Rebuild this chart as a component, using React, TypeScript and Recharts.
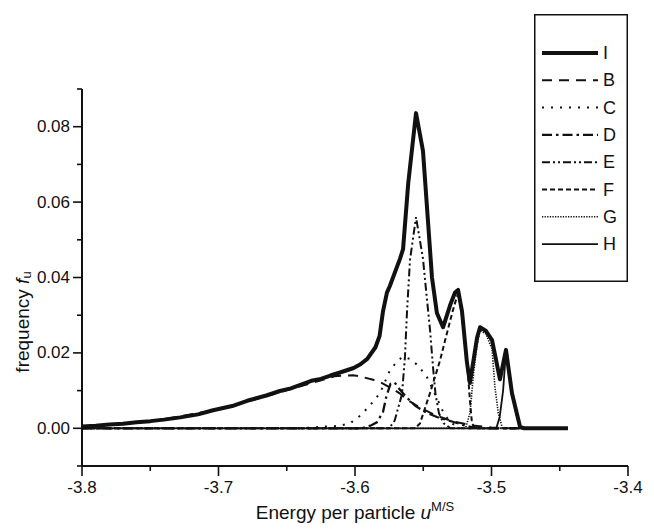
import React from 'react';
import { LineChart, Line, XAxis, YAxis, Legend } from 'recharts';

const FONT = '"Liberation Sans", Arial, Helvetica, sans-serif';
const INK = '#111';

// Energy per particle (u) / frequency (f) pairs for every distribution
const seriesI: [number, number][] = [
  [-3.8, 0.0005], [-3.79, 0.0007], [-3.78, 0.001], [-3.77, 0.0012], [-3.76, 0.0016],
  [-3.75, 0.0019], [-3.74, 0.0023], [-3.728, 0.0029], [-3.715, 0.0037], [-3.704, 0.0048],
  [-3.69, 0.0059], [-3.679, 0.0073], [-3.665, 0.0087], [-3.655, 0.0099], [-3.647, 0.0106],
  [-3.64, 0.0115], [-3.632, 0.0126], [-3.625, 0.0131], [-3.618, 0.014], [-3.611, 0.0148],
  [-3.601, 0.016], [-3.596, 0.017], [-3.591, 0.0184], [-3.585, 0.0215], [-3.582, 0.0245],
  [-3.5795, 0.031], [-3.5766, 0.036], [-3.5744, 0.0378], [-3.567, 0.045], [-3.5648, 0.0475],
  [-3.561, 0.065], [-3.5553, 0.0836], [-3.5502, 0.0736], [-3.5436, 0.04], [-3.54, 0.0306],
  [-3.5355, 0.0268], [-3.53, 0.033], [-3.5267, 0.036], [-3.5245, 0.0367], [-3.5216, 0.031],
  [-3.518, 0.0175], [-3.5158, 0.012], [-3.5106, 0.024], [-3.5084, 0.0268], [-3.504, 0.0258],
  [-3.4996, 0.0234], [-3.4938, 0.013], [-3.4894, 0.0208], [-3.485, 0.0093], [-3.4791, 0.0004],
  [-3.476, 0], [-3.444, 0],
];

const seriesB: [number, number][] = [
  [-3.8, 0.0004], [-3.75, 0.0018], [-3.7, 0.005], [-3.66, 0.009], [-3.63, 0.0122],
  [-3.615, 0.0138], [-3.6015, 0.0141], [-3.5956, 0.0137], [-3.5868, 0.0129], [-3.5802, 0.012],
  [-3.5722, 0.0104], [-3.567, 0.0092], [-3.5619, 0.0076], [-3.5539, 0.0058], [-3.5414, 0.0035],
  [-3.528, 0.0018], [-3.515, 0.0008], [-3.5, 0.0002], [-3.49, 0], [-3.444, 0],
];

const seriesC: [number, number][] = [
  [-3.8, 0], [-3.64, 0], [-3.62, 0.0005], [-3.6125, 0.0006], [-3.6037, 0.0013],
  [-3.5956, 0.0035], [-3.5883, 0.0064], [-3.5817, 0.0093], [-3.5744, 0.0154], [-3.5685, 0.018],
  [-3.5648, 0.019], [-3.56, 0.0184], [-3.5539, 0.0167], [-3.5473, 0.0136], [-3.54, 0.008],
  [-3.535, 0.004], [-3.53, 0.0015], [-3.522, 0], [-3.444, 0],
];

const seriesD: [number, number][] = [
  [-3.8, 0], [-3.595, 0], [-3.588, 0.0008], [-3.584, 0.0016], [-3.5795, 0.0043],
  [-3.577, 0.0085], [-3.574, 0.0118], [-3.571, 0.0122], [-3.5692, 0.0112], [-3.563, 0.0085],
  [-3.556, 0.006], [-3.548, 0.0042], [-3.54, 0.003], [-3.529, 0.0018], [-3.52, 0.0008],
  [-3.51, 0], [-3.444, 0],
];

const seriesE: [number, number][] = [
  [-3.8, 0], [-3.575, 0], [-3.571, 0.002], [-3.5656, 0.009], [-3.5634, 0.019],
  [-3.5619, 0.031], [-3.5597, 0.0447], [-3.5553, 0.056], [-3.5502, 0.045], [-3.5475, 0.035],
  [-3.545, 0.026], [-3.5428, 0.016], [-3.541, 0.009], [-3.5385, 0.004], [-3.535, 0.0013],
  [-3.53, 0], [-3.444, 0],
];

const seriesF: [number, number][] = [
  [-3.8, 0], [-3.556, 0], [-3.5524, 0.0013], [-3.5451, 0.0093], [-3.5377, 0.018],
  [-3.5326, 0.0253], [-3.5282, 0.0314], [-3.5245, 0.0359], [-3.522, 0.031], [-3.518, 0.018],
  [-3.5158, 0.0074], [-3.5143, 0.0013], [-3.512, 0], [-3.444, 0],
];

const seriesG: [number, number][] = [
  [-3.8, 0], [-3.519, 0], [-3.5158, 0.004], [-3.513, 0.015], [-3.5106, 0.022],
  [-3.5084, 0.026], [-3.504, 0.025], [-3.4996, 0.021], [-3.4975, 0.011], [-3.495, 0.004],
  [-3.492, 0], [-3.444, 0],
];

const seriesH: [number, number][] = [
  [-3.8, 0], [-3.4965, 0], [-3.494, 0.003], [-3.4915, 0.01], [-3.4894, 0.0205],
  [-3.487, 0.014], [-3.485, 0.009], [-3.482, 0.004], [-3.4791, 0.0003], [-3.477, 0],
  [-3.444, 0],
];

const xTicks = [-3.8, -3.75, -3.7, -3.65, -3.6, -3.55, -3.5, -3.45, -3.4];
const yTicks = [-0.01, 0, 0.01, 0.02, 0.03, 0.04, 0.05, 0.06, 0.07, 0.08, 0.09];
const legendNames = ['I', 'B', 'C', 'D', 'E', 'F', 'G', 'H'];

type Stroke = { width: number; dash?: string };

const strokes: Record<string, Stroke> = {
  I: { width: 4 },
  B: { width: 2, dash: '10 7' },
  C: { width: 2, dash: '2 7' },
  D: { width: 2.3, dash: '10 4 2.5 4' },
  E: { width: 2, dash: '8 3 2 3 2 3' },
  F: { width: 2, dash: '5 3' },
  G: { width: 1.6, dash: '1.3 1.3' },
  H: { width: 1.8 },
};

const toRows = (pts: [number, number][]) => pts.map(([u, f]) => ({ u, f }));

const componentSeries: { name: string; points: [number, number][] }[] = [
  { name: 'B', points: seriesB },
  { name: 'C', points: seriesC },
  { name: 'D', points: seriesD },
  { name: 'E', points: seriesE },
  { name: 'F', points: seriesF },
  { name: 'G', points: seriesG },
  { name: 'H', points: seriesH },
];

const XTick = (props: any) => {
  const { x, y, payload } = props;
  const v = payload.value as number;
  const major = Math.round(v * 100) % 10 === 0;
  const len = major ? 10 : 5;
  return (
    <g>
      <line x1={x} x2={x} y1={y} y2={y + len} stroke={INK} strokeWidth={1.6} />
      {major && (
        <text x={x} y={y + 27} textAnchor="middle" fontSize={17} fontFamily={FONT} fill={INK}>
          {v.toFixed(1)}
        </text>
      )}
    </g>
  );
};

const YTick = (props: any) => {
  const { x, y, payload } = props;
  const v = payload.value as number;
  const major = Math.round(v * 100) % 2 === 0;
  const len = major ? 9 : 5;
  return (
    <g>
      <line x1={x} x2={x - len} y1={y} y2={y} stroke={INK} strokeWidth={1.6} />
      {major && (
        <text x={x - len - 3} y={y} textAnchor="end" dominantBaseline="central" fontSize={17} fontFamily={FONT} fill={INK}>
          {v.toFixed(2)}
        </text>
      )}
    </g>
  );
};

const XTitle = () => (
  <text x={355} y={519} textAnchor="middle" fontSize={19} fontFamily={FONT} fill={INK}>
    Energy per particle <tspan fontStyle="italic">u</tspan>
    <tspan fontSize={13} dy={-8}>M/S</tspan>
  </text>
);

const YTitle = () => (
  <text transform="translate(22,322) rotate(-90)" textAnchor="middle" dominantBaseline="central" fontSize={19} fontFamily={FONT} fill={INK}>
    frequency <tspan fontStyle="italic">f</tspan>
    <tspan fontSize={13} dy={4}>u</tspan>
  </text>
);

const LegendBox = () => (
  <svg width={94} height={268} style={{ display: 'block' }}>
    <rect x={0.75} y={0.75} width={92.5} height={266.5} fill="#fff" stroke={INK} strokeWidth={1.5} />
    {legendNames.map((name, i) => {
      const cy = 39 + i * 27.3;
      const s = strokes[name];
      return (
        <g key={name}>
          <line x1={8} x2={64} y1={cy} y2={cy} stroke={INK} strokeWidth={s.width} strokeDasharray={s.dash} />
          <text x={69} y={cy} dominantBaseline="central" fontSize={18} fontFamily={FONT} fill={INK}>
            {name}
          </text>
        </g>
      );
    })}
  </svg>
);

export default function App() {
  return (
    <div style={{ position: 'absolute', left: 0, top: 0, background: '#fff' }}>
      <LineChart width={654} height={532} margin={{ top: 89, right: 26, bottom: 0, left: 0 }}>
        <XAxis
          type="number"
          dataKey="u"
          domain={[-3.8, -3.4]}
          ticks={xTicks}
          allowDataOverflow
          height={66}
          tickSize={0}
          tickMargin={0}
          tickLine={false}
          tick={XTick}
          axisLine={{ stroke: INK, strokeWidth: 2 }}
          label={XTitle}
        />
        <YAxis
          type="number"
          domain={[-0.01, 0.09]}
          ticks={yTicks}
          allowDataOverflow
          width={82}
          tickSize={0}
          tickMargin={0}
          tickLine={false}
          tick={YTick}
          axisLine={{ stroke: INK, strokeWidth: 2 }}
          label={YTitle}
        />
        {componentSeries.map((s) => (
          <Line
            key={s.name}
            data={toRows(s.points)}
            dataKey="f"
            name={s.name}
            type="linear"
            stroke={INK}
            strokeWidth={strokes[s.name].width}
            strokeDasharray={strokes[s.name].dash}
            dot={false}
            activeDot={false}
            isAnimationActive={false}
          />
        ))}
        <Line
          data={toRows(seriesI)}
          dataKey="f"
          name="I"
          type="linear"
          stroke={INK}
          strokeWidth={strokes.I.width}
          strokeLinejoin="round"
          dot={false}
          activeDot={false}
          isAnimationActive={false}
        />
        <Legend
          layout="vertical"
          align="center"
          verticalAlign="middle"
          wrapperStyle={{ position: 'absolute', left: 534, top: 14, width: 94, height: 268, margin: 0, padding: 0 }}
          content={() => <LegendBox />}
        />
      </LineChart>
    </div>
  );
}
